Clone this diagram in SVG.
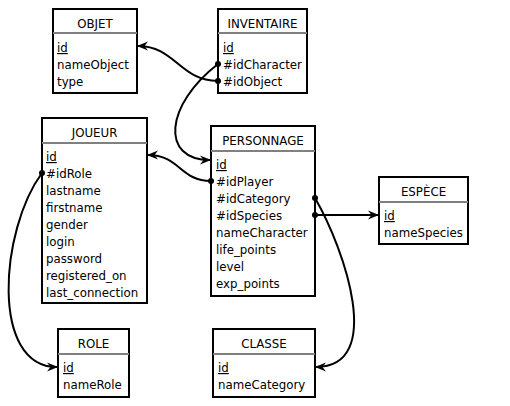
<svg xmlns="http://www.w3.org/2000/svg" width="510" height="406" viewBox="0 0 510 406">
<style>
.box{fill:#fff;stroke:#000;stroke-width:2}
.sep{stroke:#808080;stroke-width:2}
text{font-family:"DejaVu Sans",sans-serif;font-size:11.8px;fill:#000}
.h{text-anchor:middle}
.pk{text-decoration:underline}
.c{fill:none;stroke:#000;stroke-width:2}
.dot{fill:#000}
</style>
<defs>
<marker id="ar" markerUnits="userSpaceOnUse" markerWidth="12" markerHeight="10" refX="10" refY="4.5" orient="auto" overflow="visible">
<path d="M0,0 L11,4.5 L0,9 L3.5,4.5 z" fill="#000"/>
</marker>
</defs>
<rect width="510" height="406" fill="#fff"/>
<g id="objet">
<rect class="box" x="53" y="9" width="84" height="84"/>
<line class="sep" x1="53" y1="33" x2="137" y2="33"/>
<text class="h" x="95" y="28">OBJET</text>
<text class="pk" x="57" y="52">id</text>
<text x="57" y="69">nameObject</text>
<text x="57" y="86">type</text>
</g>
<g id="inventaire">
<rect class="box" x="218" y="9" width="89" height="84"/>
<line class="sep" x1="218" y1="33" x2="307" y2="33"/>
<text class="h" x="262.5" y="28">INVENTAIRE</text>
<text class="pk" x="223" y="52">id</text>
<text x="223" y="69">#idCharacter</text>
<text x="223" y="86">#idObject</text>
</g>
<g id="joueur">
<rect class="box" x="42" y="118" width="105" height="185"/>
<line class="sep" x1="42" y1="143" x2="147" y2="143"/>
<text class="h" x="94.5" y="137">JOUEUR</text>
<text class="pk" x="46" y="161">id</text>
<text x="46" y="178">#idRole</text>
<text x="46" y="195">lastname</text>
<text x="46" y="212">firstname</text>
<text x="46" y="229">gender</text>
<text x="46" y="246">login</text>
<text x="46" y="263">password</text>
<text x="46" y="280">registered_on</text>
<text x="46" y="297">last_connection</text>
</g>
<g id="personnage">
<rect class="box" x="211" y="126" width="104" height="170"/>
<line class="sep" x1="211" y1="151" x2="315" y2="151"/>
<text class="h" x="263" y="145">PERSONNAGE</text>
<text class="pk" x="216" y="169">id</text>
<text x="216" y="186">#idPlayer</text>
<text x="216" y="203">#idCategory</text>
<text x="216" y="220">#idSpecies</text>
<text x="216" y="237">nameCharacter</text>
<text x="216" y="254">life_points</text>
<text x="216" y="271">level</text>
<text x="216" y="288">exp_points</text>
</g>
<g id="espece">
<rect class="box" x="379" y="177" width="89" height="67"/>
<line class="sep" x1="379" y1="202" x2="468" y2="202"/>
<text class="h" x="423.5" y="196">ESPÈCE</text>
<text class="pk" x="384" y="220">id</text>
<text x="384" y="237">nameSpecies</text>
</g>
<g id="role">
<rect class="box" x="58" y="329" width="71" height="68"/>
<line class="sep" x1="58" y1="354" x2="129" y2="354"/>
<text class="h" x="93.5" y="348">ROLE</text>
<text class="pk" x="63" y="372">id</text>
<text x="63" y="389">nameRole</text>
</g>
<g id="classe">
<rect class="box" x="213" y="329" width="102" height="68"/>
<line class="sep" x1="213" y1="354" x2="315" y2="354"/>
<text class="h" x="264" y="348">CLASSE</text>
<text class="pk" x="218" y="372">id</text>
<text x="218" y="389">nameCategory</text>
</g>
<g id="connectors">
<path class="c" d="M218,81 C180,81 175,46 138,46" marker-end="url(#ar)"/>
<circle class="dot" cx="218" cy="81" r="3"/>
<path class="c" d="M218,64 C165,105 160,160 210,160" marker-end="url(#ar)"/>
<circle class="dot" cx="218" cy="64" r="3"/>
<path class="c" d="M211,181 C180,181 180,155 148,155" marker-end="url(#ar)"/>
<circle class="dot" cx="211" cy="181" r="3"/>
<path class="c" d="M42,173 C0,230 -10,367 57,367" marker-end="url(#ar)"/>
<circle class="dot" cx="42" cy="173" r="3"/>
<path class="c" d="M315,198 C345,250 385,367 316,367" marker-end="url(#ar)"/>
<circle class="dot" cx="315" cy="198" r="3"/>
<path class="c" d="M315,215 L378,215" marker-end="url(#ar)"/>
<circle class="dot" cx="315" cy="215" r="3"/>
</g>
</svg>
